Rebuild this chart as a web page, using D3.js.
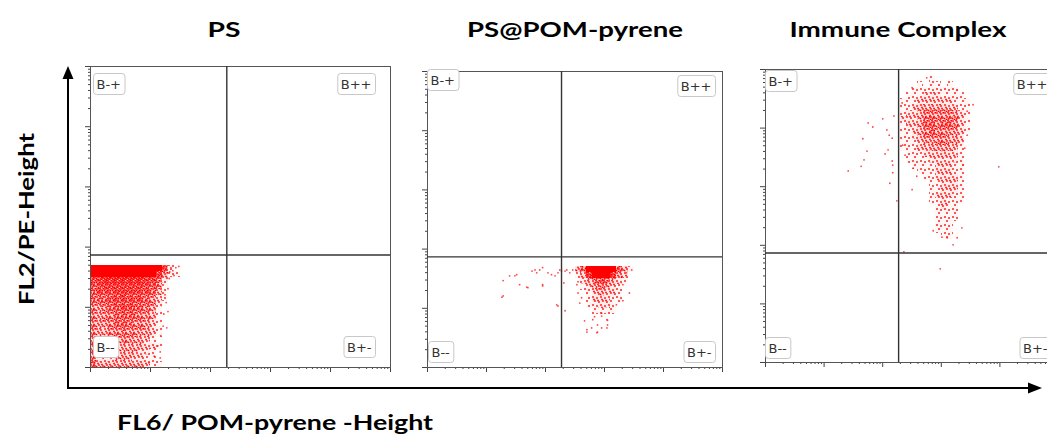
<!DOCTYPE html>
<html>
<head>
<meta charset="utf-8">
<script src="https://cdn.jsdelivr.net/npm/d3@7"></script>
<style>
  body { margin: 0; background: #fff; }
  svg { display: block; }
  .title { font-family: Lato, sans-serif; font-weight: bold; font-size: 21px; fill: #000; }
  .qlabel { font-family: "DejaVu Sans", sans-serif; font-size: 13px; fill: #333; }
</style>
</head>
<body>
<svg id="chart" width="1047" height="436"></svg>
<script>
// Data (all values in log10 decades of height, 0..5)

const titles = ["PS", "PS@POM-pyrene", "Immune Complex"];
const quadrantNames = ["B-+", "B++", "B--", "B+-"];
const decades = [0, 1, 2, 3, 4, 5];
const gates = [2.28, 1.86];   // FL6 gate, FL2 gate
const cellSize = 0.1;         // density bins, decades

// PS : density bins (0-9), rows from top (1.7) down, columns from 0
const psGridOrigin = [0, 1.7];
const psGrid = [
  [9,9,9,9,9,9,9,9,9,9,9,9,6,1,0],
  [9,9,9,9,9,9,9,9,9,9,9,8,4,1,1],
  [7,7,8,8,8,8,8,8,8,7,7,5,2,0,0],
  [6,6,7,7,7,7,7,7,7,6,6,4,1,0,0],
  [5,6,6,6,7,7,7,7,6,6,5,3,1,0,0],
  [5,5,5,6,6,7,6,6,6,5,4,2,1,0,0],
  [4,4,5,5,6,6,6,6,5,5,4,2,0,0,0],
  [4,3,4,5,5,6,6,5,5,4,3,1,0,0,0],
  [4,3,4,4,5,5,5,5,4,4,3,1,0,0,0],
  [4,3,4,4,5,5,5,4,4,3,2,1,0,0,0],
  [4,3,3,4,4,5,4,4,4,3,2,1,0,0,0],
  [4,3,3,4,4,4,4,4,3,3,2,1,0,0,0],
  [4,2,3,3,4,4,4,3,3,2,1,0,0,0,0],
  [4,2,3,3,3,3,3,3,3,2,2,1,0,0,0],
  [4,2,2,3,3,3,3,3,2,2,1,0,0,0,0],
  [4,2,2,2,3,3,3,2,2,1,1,0,0,0,0],
  [5,3,3,3,3,3,3,3,3,2,1,1,0,0,0]
];
const psEvents = [
  [1.35,1.65],[1.43,1.65],[1.48,1.67],[1.38,1.60],[1.32,1.47],[1.30,1.30],[1.27,1.07],
  [1.23,0.88],[1.22,0.68],[1.18,0.52],[1.13,0.35],[1.07,0.18],[0.98,0.07],[1.17,0.25],
  [1.28,0.65],[1.17,0.15],[1.30,0.92],[1.25,1.20],[1.40,1.52],[1.33,1.58]
];

// PS@POM-pyrene
const pomGridOrigin = [2.5, 1.7];
const pomGrid = [
  [3,5,9,9,9,9,9,5,3,1],
  [1,3,8,9,9,9,8,4,2,0],
  [0,2,3,5,6,5,3,2,1,0],
  [0,1,2,3,4,3,2,1,0,0],
  [0,0,1,2,3,2,2,1,0,0],
  [0,0,1,2,2,2,1,1,0,0],
  [0,0,1,1,2,2,1,0,0,0],
  [0,0,0,1,1,1,1,0,0,0]
];
const pomEvents = [
  [2.67,0.78],[2.81,0.80],[2.96,0.86],[3.05,0.80],[3.06,0.71],[2.89,0.71],[2.71,0.63],
  [2.88,0.58],[2.96,0.66],[2.71,0.59],[2.89,0.59],[3.05,0.66],[2.79,0.66],[3.06,0.79],
  [2.96,0.91],[2.84,0.85],
  [3.43,1.25],[3.32,1.12],[3.32,1.39],[3.21,1.05],[2.56,1.25],[2.59,1.08],[2.62,1.17],
  [2.56,1.44],[2.54,1.39],[2.42,1.59],[2.37,1.64],[2.47,1.64],[3.47,1.64],[3.38,1.59],
  [1.29,1.46],[1.40,1.54],[1.49,1.54],[1.71,1.34],[1.78,1.62],[1.86,1.59],[1.91,1.64],
  [1.96,1.37],[2.05,1.59],[2.11,1.56],[2.17,1.54],[2.22,1.59],[2.25,1.64],[2.28,1.62],
  [2.22,1.03],[2.34,0.95],[1.29,1.20],[1.57,1.39],[1.83,1.64],[2.34,1.62],[2.32,1.42],
  [1.27,1.18],[1.52,1.56],[1.69,1.35],[1.96,1.68],[1.96,1.39],[2.20,1.05]
];

// Immune Complex
const immGridOrigin = [2.2, 4.9];
const immGrid = [
  [0,0,0,0,0,0,1,0,0,0,0,0,0,0,0],
  [0,0,0,0,1,0,1,1,0,1,0,0,0,0,0],
  [0,0,0,1,1,1,1,1,1,1,1,0,0,0,0],
  [0,0,1,1,1,2,2,2,1,1,1,1,0,0,0],
  [0,1,1,1,2,2,2,2,2,2,1,1,1,0,0],
  [0,1,1,2,3,3,3,3,3,2,2,1,1,0,0],
  [0,1,2,2,3,4,4,4,4,4,3,2,1,0,0],
  [0,2,2,2,3,4,5,4,4,5,4,2,1,0,0],
  [0,1,2,2,3,5,5,4,5,5,4,2,1,0,0],
  [0,1,1,2,3,4,5,4,4,4,3,2,1,0,0],
  [0,1,1,2,3,4,4,4,4,3,3,2,0,0,0],
  [0,1,1,1,2,3,3,4,4,3,3,2,0,0,0],
  [0,1,1,1,2,2,3,3,3,3,2,1,0,0,0],
  [0,0,1,1,1,2,2,2,3,2,2,1,0,0,0],
  [0,0,1,1,1,1,2,2,2,2,2,1,0,0,0],
  [0,0,0,1,1,1,1,2,2,2,1,1,0,0,0],
  [0,0,0,0,1,1,1,2,2,2,1,1,0,0,0],
  [0,0,0,0,0,1,1,2,2,2,2,1,0,0,0],
  [0,0,0,0,0,0,1,1,2,2,2,1,0,0,0],
  [0,0,0,0,0,0,1,1,2,2,2,1,0,0,0],
  [0,0,0,0,0,0,1,2,2,2,1,1,0,0,0],
  [0,0,0,0,0,0,1,1,2,1,1,1,0,0,0],
  [0,0,0,0,0,0,0,1,2,1,1,0,0,0,0],
  [0,0,0,0,0,0,0,1,1,1,1,0,0,0,0],
  [0,0,0,0,0,0,0,1,1,1,1,0,0,0,0],
  [0,0,0,0,0,0,0,1,1,1,0,0,0,0,0],
  [0,0,0,0,0,0,0,1,1,1,0,0,0,0,0],
  [0,0,0,0,0,0,0,0,1,1,0,0,0,0,0]
];
const immEvents = [
  [1.42,3.26],[1.64,3.34],[1.69,3.45],[1.74,3.60],[1.67,3.81],[1.76,4.08],[1.84,4.01],
  [2.01,4.15],[2.08,3.96],[2.12,3.87],[2.17,3.82],[2.05,3.55],[2.10,3.62],[2.17,3.43],
  [2.18,3.36],[2.18,3.23],[2.13,3.05],[2.20,4.20],[2.34,4.42],[2.51,4.68],[2.76,4.85],
  [3.28,4.64],[3.55,4.39],[3.45,4.28],[3.45,3.87],[3.41,3.65],[3.38,3.36],[2.53,3.31],
  [2.59,3.17],[2.35,3.70],[2.39,3.53],[2.25,2.75],[2.51,2.94],[2.37,1.88],[2.99,1.59],
  [2.87,2.24],[3.36,2.29],[3.21,2.00],[3.02,2.13],[3.11,2.12],[3.28,2.12],[3.99,3.33]
];

// Layout of the three plot frames
const panels = [
  {left: 90,  top: 66, width: 300, height: 301, titleX: 224,
   grid: psGrid, origin: psGridOrigin, events: psEvents,
   tl: [3, 7], tr: [15, 7], bl: [3, 10], br: [15, 10]},
  {left: 427, top: 71, width: 295, height: 296, titleX: 575,
   grid: pomGrid, origin: pomGridOrigin, events: pomEvents,
   tl: [0, -2], tr: [7, 4], bl: [1, 5], br: [7, 5]},
  {left: 765, top: 69, width: 293, height: 293, titleX: 898,
   grid: immGrid, origin: immGridOrigin, events: immEvents,
   tl: [0, 1], tr: [7, 4], bl: [0, 4], br: [7, 4]}
];

const svg = d3.select("#chart");

let minorTicks = [];
for (let n = 0; n < 5; n++){
    for (let k = 2; k < 10; k++){
        minorTicks.push(n + Math.log10(k));
    }
}

// speckle textures, one per density level (dots in an 8px tile)
const speckle = [[1,1],[5,2],[3,5],[7,6],[2,3.5],[6,4.5],[4,0.5],[0.5,6.5],[4.5,7],[7.2,0.8],
                 [2.5,7.5],[5.5,5.8],[1.5,4.8],[3.5,2.6],[6.5,2.8],[0.3,2.5],[4,4],[2.8,0.5],
                 [7.5,3.5],[1,7.8],[5.8,7.7],[3.2,6.3],[6.8,5.5],[2,2]];
const defs = svg.append("defs");
for (let L = 1; L < 9; L++){
    const pat = defs.append("pattern")
      .attr("id", "dens" + L)
      .attr("patternUnits", "userSpaceOnUse")
      .attr("width", 8).attr("height", 8);
    pat.append("rect")
      .attr("width", 8).attr("height", 8)
      .attr("fill", "#ff0000").attr("fill-opacity", L * 0.035);
    pat.selectAll("rect.dot")
      .data(speckle.slice(0, L * 3))
      .enter()
      .append("rect")
      .attr("class", "dot")
      .attr("x", d => d[0] - 0.8).attr("y", d => d[1] - 0.8)
      .attr("width", 1.6).attr("height", 1.6)
      .attr("fill", "#ff0000");
}

function drawPanel(p, i){
    const x = d3.scaleLinear().domain([0, 5]).range([p.left, p.left + p.width]);
    const y = d3.scaleLinear().domain([0, 5]).range([p.top + p.height, p.top]);
    const g = svg.append("g");

    g.append("clipPath").attr("id", "clip" + i)
      .append("rect")
      .attr("x", p.left).attr("y", p.top)
      .attr("width", p.width).attr("height", p.height);

    const plot = g.append("g").attr("clip-path", "url(#clip" + i + ")");

    // density bins
    const cells = [];
    p.grid.forEach((row, r) => {
        row.forEach((v, c) => {
            if (v > 0) cells.push({x0: p.origin[0] + c * cellSize, y1: p.origin[1] - r * cellSize, v: v});
        });
    });
    plot.selectAll("rect.cell")
      .data(cells)
      .enter()
      .append("rect")
      .attr("class", "cell")
      .attr("x", d => Math.round(x(d.x0)))
      .attr("y", d => Math.round(y(d.y1)))
      .attr("width", d => Math.round(x(d.x0 + cellSize)) - Math.round(x(d.x0)))
      .attr("height", d => Math.round(y(d.y1 - cellSize)) - Math.round(y(d.y1)))
      .attr("fill", d => d.v >= 9 ? "#ff0000" : "url(#dens" + d.v + ")");

    // single events
    plot.selectAll("circle.ev")
      .data(p.events)
      .enter()
      .append("circle")
      .attr("class", "ev")
      .attr("cx", d => x(d[0]))
      .attr("cy", d => y(d[1]))
      .attr("r", 0.9)
      .attr("fill", "#ff1a1a")
      .attr("fill-opacity", 0.8);

    // log ticks
    const xa = g.append("g").attr("transform", `translate(0,${p.top + p.height})`);
    xa.append("g").call(d3.axisBottom(x).tickValues(minorTicks).tickSize(2).tickFormat(""));
    xa.append("g").call(d3.axisBottom(x).tickValues(decades).tickSize(5).tickFormat(""));
    const ya = g.append("g").attr("transform", `translate(${p.left},0)`);
    ya.append("g").call(d3.axisLeft(y).tickValues(minorTicks).tickSize(2).tickFormat(""));
    ya.append("g").call(d3.axisLeft(y).tickValues(decades).tickSize(5).tickFormat(""));
    g.selectAll(".domain").remove();
    g.selectAll(".tick line").attr("stroke", "#444");

    // frame
    g.append("rect")
      .attr("x", p.left + 0.5).attr("y", p.top + 0.5)
      .attr("width", p.width).attr("height", p.height)
      .attr("fill", "none").attr("stroke", "#555").attr("stroke-width", 1);

    // quadrant gates
    g.append("line")
      .attr("x1", x(gates[0])).attr("x2", x(gates[0]))
      .attr("y1", p.top).attr("y2", p.top + p.height)
      .attr("stroke", "#333").attr("stroke-width", 1.4);
    g.append("line")
      .attr("x1", p.left).attr("x2", p.left + p.width)
      .attr("y1", y(gates[1])).attr("y2", y(gates[1]))
      .attr("stroke", "#333").attr("stroke-width", 1.4);

    // quadrant labels
    const right = p.left + p.width, bottom = p.top + p.height;
    const spots = [
        {anchor: "left",  x: p.left + p.tl[0], y: p.top + p.tl[1]},
        {anchor: "right", x: right - p.tr[0],  y: p.top + p.tr[1]},
        {anchor: "left",  x: p.left + p.bl[0], y: bottom - p.bl[1] - 21},
        {anchor: "right", x: right - p.br[0],  y: bottom - p.br[1] - 21}
    ];
    quadrantNames.forEach((name, q) => {
        const s = spots[q];
        const lg = g.append("g");
        const box = lg.append("rect");
        const t = lg.append("text").attr("class", "qlabel").text(name);
        const w = t.node().getComputedTextLength() + 7;
        const bx = s.anchor == "left" ? s.x : s.x - w;
        box.attr("x", bx + 0.5).attr("y", s.y + 0.5)
          .attr("width", w).attr("height", 21)
          .attr("rx", 3)
          .attr("fill", "#fff").attr("stroke", "#c8c8c8");
        t.attr("x", bx + 3.5).attr("y", s.y + 15.5);
    });

    svg.append("text")
      .attr("class", "title")
      .attr("x", p.titleX).attr("y", 37)
      .attr("text-anchor", "middle")
      .text(titles[i]);
}

panels.forEach(drawPanel);

// size the titles like the original figure
const titleWidths = [33, 216, 217];
svg.selectAll("text.title").each(function(d, i){
    d3.select(this).attr("textLength", titleWidths[i]).attr("lengthAdjust", "spacingAndGlyphs");
});

// big axis arrows
svg.append("line").attr("x1", 68).attr("x2", 68).attr("y1", 389).attr("y2", 74)
  .attr("stroke", "#000").attr("stroke-width", 2);
svg.append("polygon").attr("points", "62.5,79 68,66 73.5,79").attr("fill", "#000");
svg.append("line").attr("x1", 67).attr("x2", 1032).attr("y1", 388).attr("y2", 388)
  .attr("stroke", "#000").attr("stroke-width", 2);
svg.append("polygon").attr("points", "1028,382.5 1042,388 1028,393.5").attr("fill", "#000");

svg.append("text")
  .attr("class", "title")
  .attr("x", 117).attr("y", 430)
  .attr("textLength", 316).attr("lengthAdjust", "spacingAndGlyphs")
  .text("FL6/ POM-pyrene -Height");

svg.append("text")
  .attr("class", "title")
  .attr("transform", "translate(34,305) rotate(-90)")
  .attr("textLength", 172).attr("lengthAdjust", "spacingAndGlyphs")
  .text("FL2/PE-Height");
</script>
</body>
</html>
